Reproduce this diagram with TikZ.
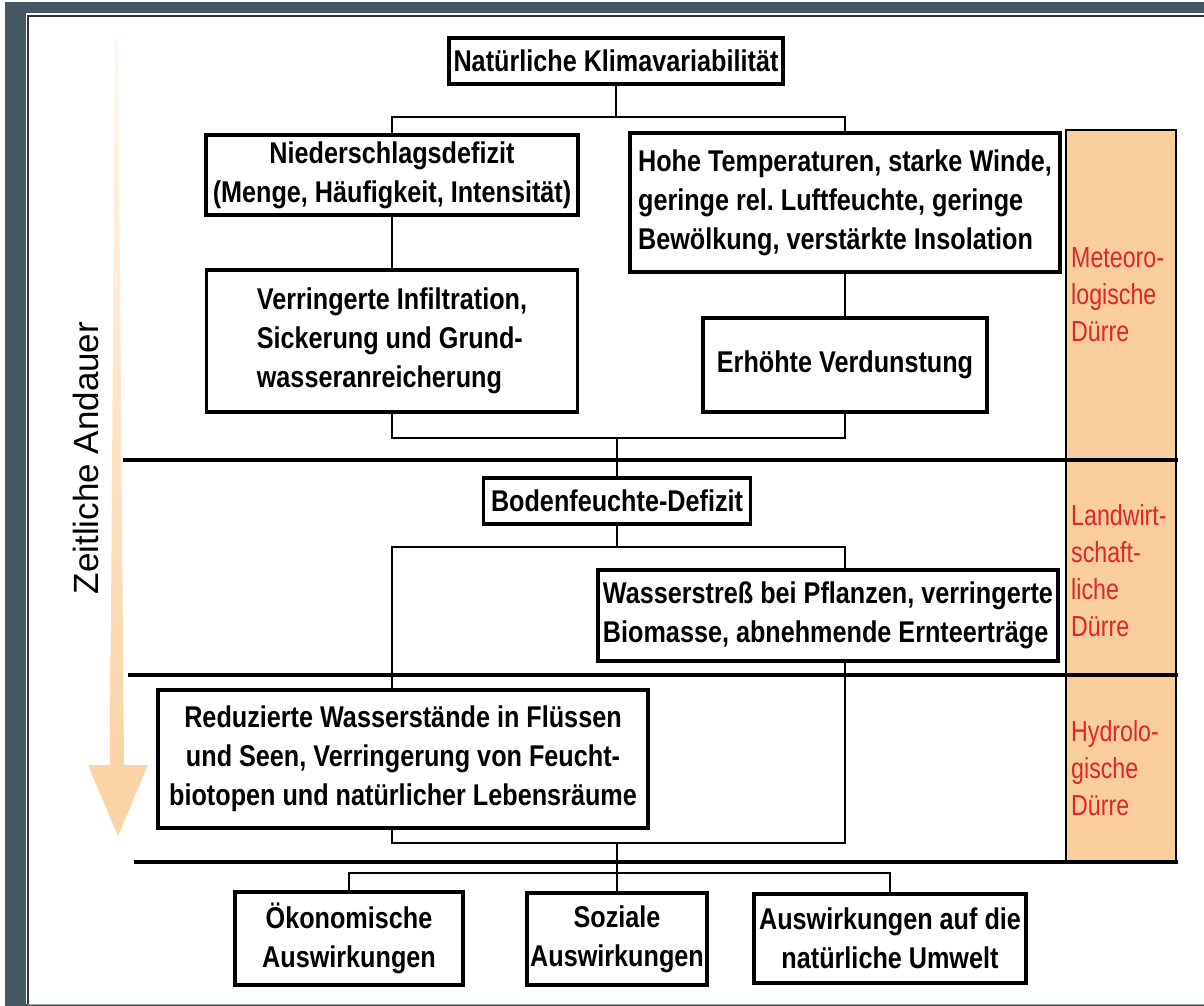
\documentclass[tikz,border=0pt]{standalone}
\usepackage{fontspec}
\setmainfont{Liberation Sans}
\newfontfamily\condfont[FakeStretch=0.84]{Liberation Sans}
\newfontfamily\sidefont[FakeStretch=0.8]{Liberation Sans}
\definecolor{slate}{RGB}{70,88,100}
\definecolor{peach}{RGB}{250,206,156}
\definecolor{arrowpeach}{RGB}{250,212,165}
\definecolor{dred}{RGB}{222,40,40}
\frenchspacing
\begin{document}
\begin{tikzpicture}[x=1pt,y=-1pt,
  box/.style={draw=black, line width=3.2pt, fill=white, inner sep=0pt,
    font=\condfont\bfseries\fontsize{30}{39}\selectfont},
  conn/.style={line width=2pt},
  sep/.style={line width=3.8pt},
  side/.style={anchor=west, align=left, text=dred, inner sep=0pt,
    font=\sidefont\fontsize{29}{37}\selectfont}]
\useasboundingbox (0,0) rectangle (1204,1006);
% frame
\fill[slate] (5,2) rectangle (1204,1006);
\fill[white] (26,13) rectangle (1204,1004);
\draw[line width=1.5pt, black!80] (28,1004) -- (28,16) -- (1204,16);
\draw[line width=1pt, black!40] (28,1004) -- (1204,1004);
% time arrow
\shade[top color=arrowpeach!20, bottom color=arrowpeach] (115,38) -- (118,38) -- (124,766) -- (110,766) -- cycle;
\fill[arrowpeach] (88,765) -- (148,765) -- (118,836) -- cycle;
\node[rotate=90, inner sep=0pt, font=\fontsize{35}{40}\selectfont] (zt) at (86,458) {Zeitliche Andauer};
% side column
\draw[line width=2.5pt, fill=peach] (1066,130) rectangle (1176,862);
\node[side] (met) at (1071,295) {Meteoro-\\logische\\Dürre};
\node[side] (lan) at (1071,571) {Landwirt-\\schaft-\\liche\\Dürre};
\node[side] (hyd) at (1071,768) {Hydrolo-\\gische\\Dürre};
% separators
\draw[sep] (123,460) -- (1178,460);
\draw[sep] (128,675) -- (1178,675);
\draw[sep] (134,862) -- (1178,862);
% junctions
\coordinate (j1) at (616,117);
\coordinate (j2) at (617,438);
\coordinate (j3) at (617,547);
\coordinate (j4) at (617,843);
\coordinate (j5) at (617,873);
% boxes
\node[box, minimum width=334pt, minimum height=46pt] (nk) at (616,61) {Natürliche Klimavariabilität};
\node[box, minimum width=372pt, minimum height=80pt, align=center] (nd) at (392,175) {Niederschlagsdefizit\\(Menge, Häufigkeit, Intensität)};
\node[box, minimum width=430pt, minimum height=139pt, align=left] (ht) at (845,202.5) {Hohe Temperaturen, starke Winde,\\geringe rel. Luftfeuchte, geringe\\Bewölkung, verstärkte Insolation};
\node[box, minimum width=371pt, minimum height=142pt, align=left] (vi) at (392,341) {Verringerte Infiltration,\\Sickerung und Grund-\\wasseranreicherung};
\node[box, minimum width=284pt, minimum height=94pt] (ev) at (845,365) {Erhöhte Verdunstung};
\node[box, minimum width=267pt, minimum height=46pt] (bf) at (617,501) {Bodenfeuchte-Defizit};
\node[box, minimum width=460pt, minimum height=91pt, align=left] (ws) at (828,615.5) {Wasserstreß bei Pflanzen, verringerte\\Biomasse, abnehmende Ernteerträge};
\node[box, minimum width=490pt, minimum height=138pt, align=center] (rw) at (403,759) {Reduzierte Wasserstände in Flüssen\\und Seen, Verringerung von Feucht-\\biotopen und natürlicher Lebensräume};
\node[box, minimum width=228pt, minimum height=93pt, align=center] (ok) at (349,938.5) {Ökonomische\\Auswirkungen};
\node[box, minimum width=180pt, minimum height=92pt, align=center] (so) at (617,939) {Soziale\\Auswirkungen};
\node[box, minimum width=272pt, minimum height=89pt, align=center] (au) at (890,938.5) {Auswirkungen auf die\\natürliche Umwelt};
% connectors
\draw[conn] (nk.south) -- (j1);
\draw[conn] (nd.north) |- (j1) -| (ht.north);
\draw[conn] (nd.south) -- (vi.north);
\draw[conn] (ht.south) -- (ev.north);
\draw[conn] (vi.south) |- (j2) -| (ev.south);
\draw[conn] (j2) -- (bf.north);
\draw[conn] (bf.south) -- (j3);
\draw[conn] (rw.north -| nd.south) |- (j3) -| (ws.north -| ev.south);
\draw[conn] (rw.south -| nd.south) |- (j4) -| (ws.south -| ev.south);
\draw[conn] (j4) -- (j5);
\draw[conn] (ok.north) |- (j5) -| (au.north);
\draw[conn] (j5) -- (so.north);
\end{tikzpicture}
\end{document}
